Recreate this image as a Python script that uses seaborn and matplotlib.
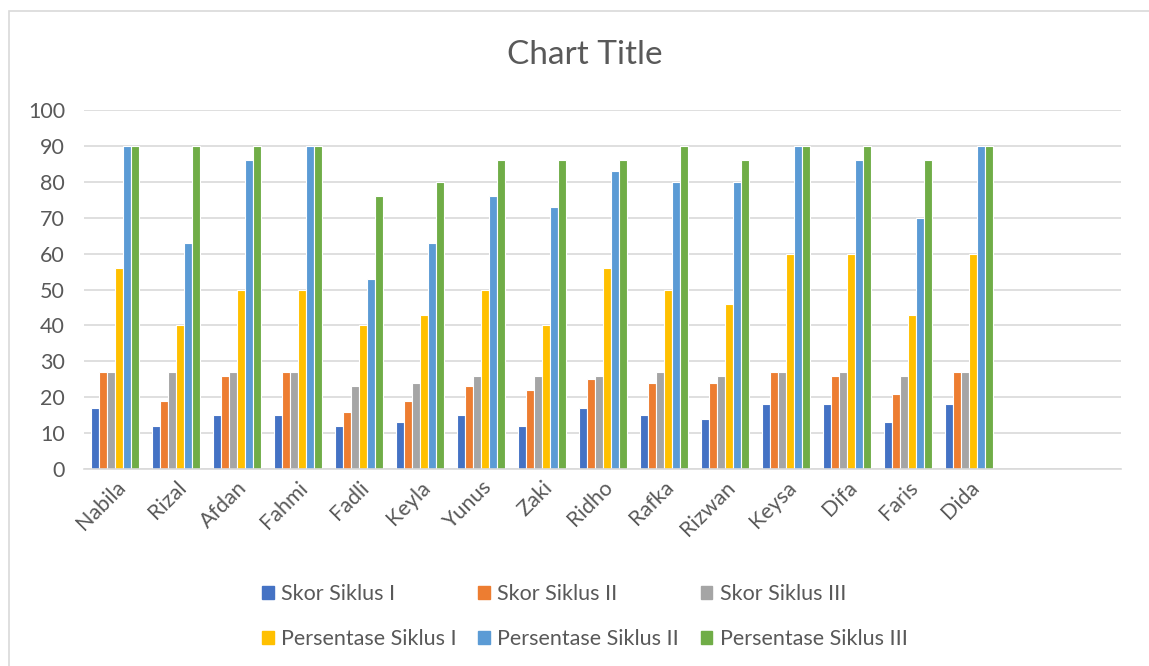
import matplotlib
matplotlib.use('Agg')
import matplotlib.pyplot as plt
from matplotlib.patches import Rectangle
import pandas as pd
import seaborn as sns

names = ['Nabila', 'Rizal', 'Afdan', 'Fahmi', 'Fadli', 'Keyla', 'Yunus', 'Zaki',
         'Ridho', 'Rafka', 'Rizwan', 'Keysa', 'Difa', 'Faris', 'Dida']
skor_1 = [17, 12, 15, 15, 12, 13, 15, 12, 17, 15, 14, 18, 18, 13, 18]
skor_2 = [27, 19, 26, 27, 16, 19, 23, 22, 25, 24, 24, 27, 26, 21, 27]
skor_3 = [27, 27, 27, 27, 23, 24, 26, 26, 26, 27, 26, 27, 27, 26, 27]
persen_1 = [56, 40, 50, 50, 40, 43, 50, 40, 56, 50, 46, 60, 60, 43, 60]
persen_2 = [90, 63, 86, 90, 53, 63, 76, 73, 83, 80, 80, 90, 86, 70, 90]
persen_3 = [90, 90, 90, 90, 76, 80, 86, 86, 86, 90, 86, 90, 90, 86, 90]
series = ['Skor Siklus I', 'Skor Siklus II', 'Skor Siklus III',
          'Persentase Siklus I', 'Persentase Siklus II', 'Persentase Siklus III']
colors = ['#4472C4', '#ED7D31', '#A5A5A5', '#FFC000', '#5B9BD5', '#70AD47']

wide = pd.DataFrame({'Nama': names, series[0]: skor_1, series[1]: skor_2,
                     series[2]: skor_3, series[3]: persen_1,
                     series[4]: persen_2, series[5]: persen_3})
df = wide.melt(id_vars='Nama', var_name='Seri', value_name='Nilai')

sns.set_style('white')
plt.rcParams['font.family'] = ['Lato', 'DejaVu Sans']
text_col = '#595959'

fig = plt.figure(figsize=(11.49, 6.66), dpi=100)
ax = fig.add_axes([0.0735, 0.2958, 0.9025, 0.539])

sns.barplot(data=df, x='Nama', y='Nilai', hue='Seri', order=names,
            hue_order=series, palette=colors, saturation=1, width=0.8,
            gap=0.0, edgecolor='white', linewidth=0.8, ax=ax)

# two empty category slots on the right, like the source sheet
ax.set_xlim(-0.5, 16.5)
ax.set_ylim(0, 100)
ax.set_yticks(range(0, 101, 10))
ax.yaxis.grid(True, color='#D9D9D9', linewidth=1.2)
ax.set_axisbelow(True)
for s in ['top', 'right', 'left']:
    ax.spines[s].set_visible(False)
ax.spines['bottom'].set_color('#D9D9D9')
ax.spines['bottom'].set_linewidth(1.2)
ax.tick_params(axis='y', length=0, pad=14, labelsize=15.5, labelcolor=text_col)
ax.tick_params(axis='x', length=0, pad=6, labelsize=15.5, labelcolor=text_col)
plt.setp(ax.get_xticklabels(), rotation=45, ha='right', rotation_mode='anchor')
ax.set_xlabel('')
ax.set_ylabel('')

fig.text(0.5085, 0.917, 'Chart Title', ha='center', va='center',
         fontsize=24, color=text_col)

# legend filled row by row (matplotlib fills columns first)
ax.legend_.remove()
handles = [Rectangle((0, 0), 1, 1, color=c) for c in colors]
idx = [0, 3, 1, 4, 2, 5]
fig.legend([handles[i] for i in idx], [series[i] for i in idx],
           loc='center', bbox_to_anchor=(0.509, 0.074),
           ncol=3, frameon=False, fontsize=15.5, labelcolor=text_col,
           handlelength=0.55, handleheight=0.55, handletextpad=0.33,
           columnspacing=1.0, labelspacing=1.15)

fig.patches.append(Rectangle((9 / 1149, -0.1), 1.2, 1.1 - 11 / 666,
                             transform=fig.transFigure, fill=False,
                             edgecolor='#D9D9D9', linewidth=1.2))

fig.savefig('out.png', dpi=100)
